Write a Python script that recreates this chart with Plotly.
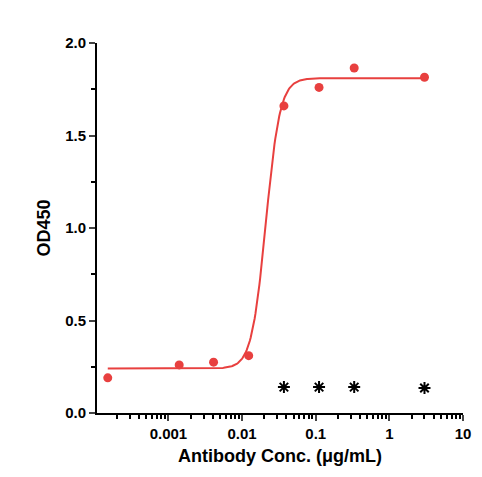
import numpy as np
import plotly.graph_objects as go

conc = [0.00015, 0.0014, 0.0041, 0.0123, 0.037, 0.111, 0.333, 3.0]
od = [0.19, 0.26, 0.275, 0.31, 1.66, 1.76, 1.865, 1.815]
neg_conc = [0.037, 0.111, 0.333, 3.0]
neg_od = [0.14, 0.14, 0.14, 0.135]
# 4PL fit parameters
bottom, top, ec50, hill = 0.24, 1.81, 0.021, 4.5
xt = [0.001, 0.01, 0.1, 1, 10]
xl = ["0.001", "0.01", "0.1", "1", "10"]
yt = [0, 0.5, 1.0, 1.5, 2.0]
yl = ["0.0", "0.5", "1.0", "1.5", "2.0"]
minor_x = [m * 10.0 ** e for e in range(-4, 1) for m in range(2, 10)]

xs = np.logspace(np.log10(0.00015), np.log10(3.0), 400)
ys = bottom + (top - bottom) / (1 + (ec50 / xs) ** hill)

red = "#e8403f"
fig = go.Figure()
fig.add_trace(go.Scatter(x=xs, y=ys, mode="lines", line=dict(color=red, width=2), hoverinfo="skip"))
fig.add_trace(go.Scatter(x=conc, y=od, mode="markers", marker=dict(color=red, size=9)))
fig.add_trace(go.Scatter(x=neg_conc, y=neg_od, mode="markers",
                         marker=dict(symbol="asterisk-open", size=10, color="black",
                                     line=dict(color="black", width=2))))
tf = dict(size=15, family="Liberation Sans, Arial", color="black", weight="bold")
fig.update_layout(
    width=474, height=469, showlegend=False,
    plot_bgcolor="white", paper_bgcolor="white",
    margin=dict(l=89, r=11, t=35, b=64),
    font=dict(family="Liberation Sans, Arial", size=15, color="black"),
    xaxis=dict(type="log", range=[-3.97, 1.0], tickvals=xt, ticktext=xl,
               showline=True, linecolor="black", linewidth=2, ticks="outside",
               ticklen=6, tickwidth=2, showgrid=False, zeroline=False, tickfont=tf,
               minor=dict(tickmode="array", tickvals=minor_x, ticks="outside", ticklen=4,
                          tickwidth=1.5, tickcolor="black", showgrid=False),
               title=dict(text="<b>Antibody Conc. (μg/mL)</b>", standoff=8)),
    yaxis=dict(range=[0, 2.0], tickvals=yt, ticktext=yl,
               showline=True, linecolor="black", linewidth=2, ticks="outside",
               ticklen=6, tickwidth=2, showgrid=False, zeroline=False, tickfont=tf,
               minor=dict(ticks="outside", ticklen=4, tickwidth=1.5, tickcolor="black", dtick=0.25, showgrid=False),
               title=dict(text="<b>OD450</b>", standoff=10)),
)
fig.write_html("out.html")
